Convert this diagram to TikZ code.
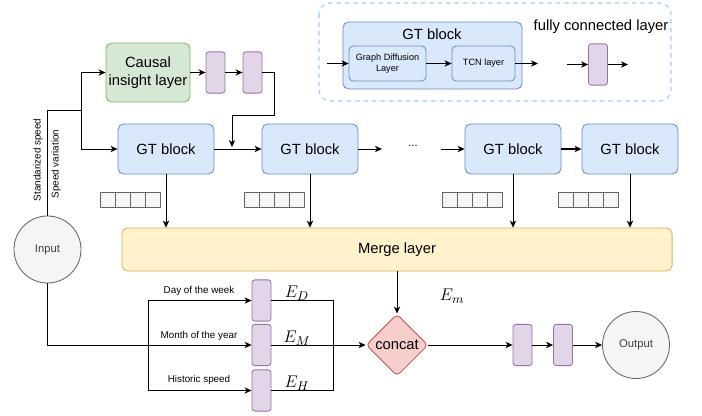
\documentclass[tikz,border=0pt]{standalone}
\usepackage{fontspec}
\setmainfont{Liberation Sans}
\usepackage{tikz}
\usetikzlibrary{shapes.geometric, arrows.meta}
\definecolor{gtfill}{HTML}{DAE8FC}\definecolor{gtdraw}{HTML}{6C8EBF}
\definecolor{cfill}{HTML}{D5E8D4}\definecolor{cdraw}{HTML}{82B366}
\definecolor{pfill}{HTML}{E1D5E7}\definecolor{pdraw}{HTML}{9673A6}
\definecolor{mfill}{HTML}{FFF2CC}\definecolor{mdraw}{HTML}{D6B656}
\definecolor{rfill}{HTML}{F8CECC}\definecolor{rdraw}{HTML}{B85450}
\definecolor{gfill}{HTML}{F5F5F5}\definecolor{gdraw}{HTML}{666666}
\definecolor{legdraw}{HTML}{99CCFF}
\tikzstyle{gtblock} = [rectangle,rounded corners=4pt,minimum width=2.4cm,
minimum height=1.25cm,text centered,draw=gtdraw,fill=gtfill,
font=\fontsize{10.5}{12}\selectfont]
\tikzstyle{causal} = [rectangle,rounded corners=4pt,minimum width=2.1cm,
minimum height=1.475cm,align=center,draw=cdraw,fill=cfill,inner sep=1pt,
font=\fontsize{10.5}{12.5}\selectfont]
\tikzstyle{fc} = [rectangle,rounded corners=2pt,minimum width=0.475cm,
minimum height=1.03cm,inner sep=0pt,draw=pdraw,fill=pfill]
\tikzstyle{cell} = [rectangle,minimum size=0.375cm,inner sep=0pt,
draw=gdraw,fill=gfill]
\tikzstyle{merge} = [rectangle,rounded corners=4pt,minimum width=13.75cm,
minimum height=1.075cm,text centered,draw=mdraw,fill=mfill,
font=\fontsize{10.5}{12}\selectfont]
\tikzstyle{concat} = [diamond,rounded corners=3pt,minimum size=1.55cm,
inner sep=0pt,draw=rdraw,fill=rfill,font=\fontsize{10.5}{12}\selectfont]
\tikzstyle{io} = [circle,minimum size=1.675cm,inner sep=0pt,draw=gdraw,
fill=gfill,text=black!75,font=\fontsize{8}{10}\selectfont]
\tikzstyle{small} = [rectangle,rounded corners=3pt,draw=gtdraw,fill=gtfill,
minimum height=0.875cm,inner sep=1pt,align=center,
font=\fontsize{6.5}{8}\selectfont]
\tikzstyle{lbl} = [inner sep=0pt,font=\fontsize{7}{8}\selectfont]
\tikzstyle{emb} = [font=\fontsize{12.5}{14}\selectfont]
\tikzstyle{arrow} = [line width=0.6pt,-{Stealth[length=5pt,width=4.5pt,inset=1.5pt]}]
\tikzstyle{tarrow} = [line width=1.2pt,-{Stealth[length=5pt,width=4.5pt,inset=1.5pt]}]

\begin{document}
\begin{tikzpicture}[x=0.025cm,y=-0.025cm,line width=0.6pt]
\useasboundingbox (0,0) rectangle (702,415);
%Legend box
\draw[legdraw,dashed,rounded corners=8pt,line width=0.8pt] (319,3) rectangle (671,101);
\node (legt) [gtblock,minimum width=4.475cm,minimum height=1.675cm] at (432.5,55.5) {};
\node (legtt) [font=\fontsize{10.5}{12}\selectfont,inner sep=0pt] at (432,34) {GT block};
\node (gdl) [small,minimum width=1.925cm] at (387.5,63.5) {Graph Diffusion\\Layer};
\node (tcn) [small,minimum width=1.575cm] at (483.5,63.5) {TCN layer};
\node (legfc) [fc] at (598,64.5) {};
\node (fctxt) [font=\fontsize{10.5}{12}\selectfont,inner sep=0pt] at (601,27) {fully connected layer};
\coordinate (l0) at (327,63.5);
\coordinate (l1) at (538,63.5);
\coordinate (l2) at (567,64.5);
\coordinate (l3) at (628,64.5);
\draw[arrow] (l0) -- (gdl);
\draw[arrow] (gdl) -- (tcn);
\draw[arrow] (tcn) -- (l1);
\draw[arrow] (l2) -- (legfc);
\draw[arrow] (legfc) -- (l3);
%Calling the blocks
\node (in) [io] at (47.5,249.5) {Input};
\node (cil) [causal] at (148,72.5) {Causal\\insight layer};
\node (fc1) [fc] at (215.5,72.5) {};
\node (fc2) [fc] at (252.5,72.5) {};
\node (gt1) [gtblock] at (166,149) {GT block};
\node (gt2) [gtblock] at (310,149) {GT block};
\node (dots) [inner sep=0pt,font=\fontsize{8}{10}\selectfont] at (413,146) {...};
\node (gt3) [gtblock] at (513,149) {GT block};
\node (gt4) [gtblock] at (630,149) {GT block};
\foreach \x in {100,244,442,558}
  \foreach \i in {0,...,3}
    \node (c\x\i) [cell] at (\x+7.5+15*\i,200) {};
\node (merge) [merge] at (397,249.5) {Merge layer};
\node (concat) [concat] at (397,345) {concat};
\node (ed) [fc] at (261.5,300.5) {};
\node (em) [fc] at (261.5,345) {};
\node (eh) [fc] at (261.5,390.5) {};
\node (o1) [fc] at (522.5,345) {};
\node (o2) [fc] at (563,345) {};
\node (out) [io] at (636,345) {Output};
%Labels
\node (s1) [lbl,rotate=90] at (38,160) {Standarized speed};
\node (s2) [lbl,rotate=90] at (56,164) {Speed variation};
\node (t1) [lbl] at (199,291) {Day of the week};
\node (t2) [lbl] at (199,336) {Month of the year};
\node (t3) [lbl] at (199,380) {Historic speed};
\node (ld) [emb] at (297,293) {$E_D$};
\node (lm) [emb] at (297,338) {$E_M$};
\node (lh) [emb] at (297,383) {$E_H$};
\node (lem) [emb] at (452,296) {$E_m$};
% Drawing the arrows between blocks
\coordinate (j1) at (81,110);
\draw (in.north) |- (j1);
\draw[arrow] (j1) |- (cil.west);
\draw[arrow] (j1) |- (gt1.west);
\draw[tarrow] (cil) -- (fc1);
\draw[tarrow] (fc1) -- (fc2);
\coordinate (k1) at (274,115);
\coordinate (k2) at (232,147);
\draw[arrow] (fc2.east) -| (k1) -| (k2);
\draw[arrow] (gt1) -- (gt2);
\coordinate (d1) at (382,149);
\coordinate (d2) at (441,149);
\draw[arrow] (gt2) -- (d1);
\draw[arrow] (d2) -- (gt3);
\draw[tarrow] (gt3) -- (gt4);
\foreach \g in {gt1,gt2,gt3,gt4}
  \draw[arrow] (\g.south) -- (\g.south |- merge.north);
\draw[arrow] (merge) -- (concat);
\draw[arrow] (in.south) |- (em.west);
\coordinate (b1) at (148,300.5);
\coordinate (b3) at (148,390.5);
\draw (b1) -- (b3);
\draw[arrow] (b1) -- (ed.west);
\draw[arrow] (b3) -- (eh.west);
\coordinate (r3) at (333,390.5);
\draw (ed.east) -| (r3);
\draw (eh.east) -- (r3);
\draw[arrow] (em.east) -- (concat.west);
\draw[arrow] (concat) -- (o1);
\draw[arrow] (o1) -- (o2);
\draw[arrow] (o2) -- (out);
\end{tikzpicture}
\end{document}
